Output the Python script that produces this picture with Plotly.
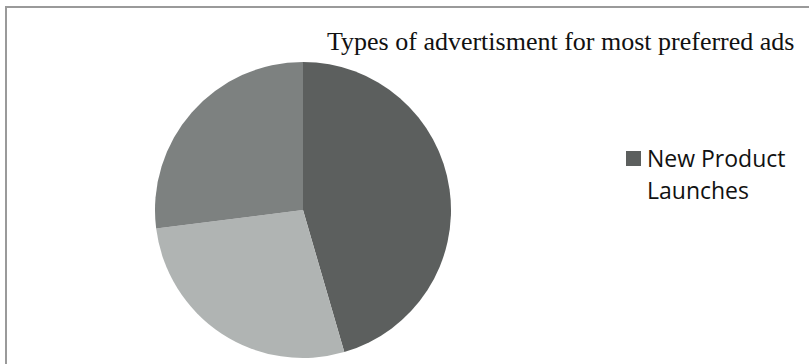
import plotly.graph_objects as go

# Survey shares by advertisement type (percent)
categories = ["New Product Launches", "Offers and Discounts", "Brand Promotions"]
shares = [45.5, 27.5, 27.0]
slice_colors = ["#5c5f5e", "#b0b4b3", "#7d8180"]

title_text = "Types of advertisment for most preferred ads"
legend_lines = ["New Product", "Launches"]

W, H = 809, 364


def px(x):
    return x / W


def py(y):
    return 1 - y / H


fig = go.Figure()

fig.add_trace(go.Pie(
    labels=categories,
    values=shares,
    sort=False,
    direction="clockwise",
    rotation=0,
    textinfo="none",
    marker=dict(colors=slice_colors, line=dict(width=0)),
    domain=dict(x=[px(155), px(451)], y=[py(358), py(62)]),
    showlegend=False,
))

shapes = [
    # outer frame (left and top edges)
    dict(type="line", xref="paper", yref="paper",
         x0=px(6), y0=py(7), x1=px(6), y1=py(370),
         line=dict(color="#9a9a9a", width=2)),
    dict(type="line", xref="paper", yref="paper",
         x0=px(5), y0=py(7), x1=px(815), y1=py(7),
         line=dict(color="#9a9a9a", width=2)),
    # legend swatch
    dict(type="rect", xref="paper", yref="paper",
         x0=px(626), y0=py(166), x1=px(641), y1=py(151),
         fillcolor=slice_colors[0], line=dict(width=0)),
]

annotations = [
    dict(text=title_text, xref="paper", yref="paper",
         x=px(560), y=py(41), xanchor="center", yanchor="middle",
         showarrow=False,
         font=dict(family="Liberation Serif", size=26, color="#111111")),
    dict(text=legend_lines[0], xref="paper", yref="paper",
         x=px(645), y=py(158), xanchor="left", yanchor="middle",
         showarrow=False,
         font=dict(family="Open Sans", size=23, color="#111111")),
    dict(text=legend_lines[1], xref="paper", yref="paper",
         x=px(645), y=py(190), xanchor="left", yanchor="middle",
         showarrow=False,
         font=dict(family="Open Sans", size=23, color="#111111")),
]

fig.update_layout(
    width=W, height=H,
    margin=dict(l=0, r=0, t=0, b=0, pad=0),
    paper_bgcolor="white",
    plot_bgcolor="white",
    shapes=shapes,
    annotations=annotations,
    showlegend=False,
)

fig.write_html("out.html")
